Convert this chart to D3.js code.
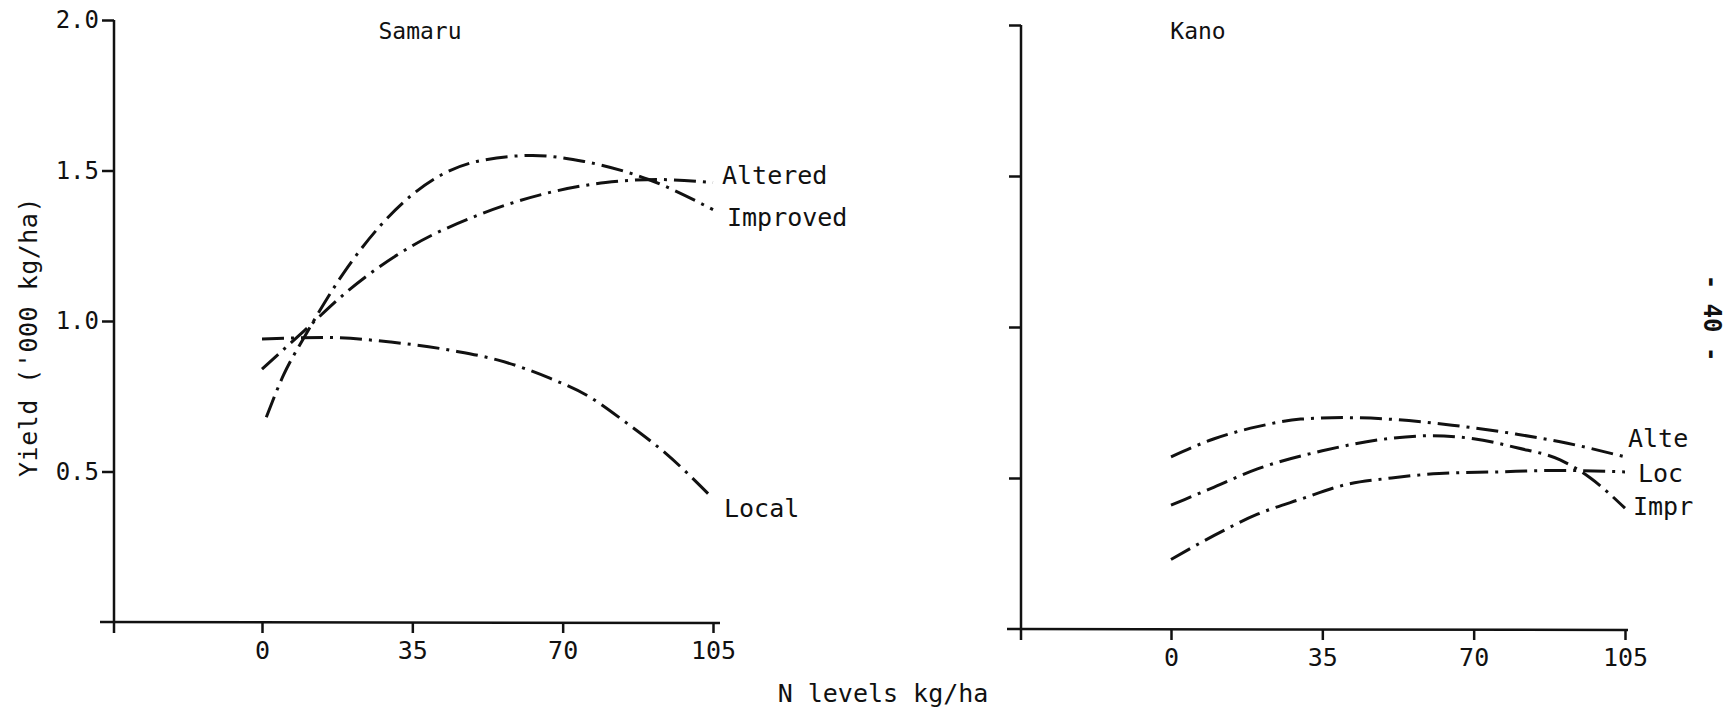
<!DOCTYPE html>
<html>
<head>
<meta charset="utf-8">
<script src="https://cdn.jsdelivr.net/npm/d3@7"></script>
<style>
  body { margin: 0; background: #fff; }
  text { font-family: "DejaVu Sans Mono", monospace; fill: #111; }
</style>
</head>
<body>
<script>
// N levels (kg/ha) and yield ('000 kg/ha)
var xTicks = [0, 35, 70, 105];
var yTicks = [0.5, 1.0, 1.5, 2.0];

var samaruAltered  = [[0,0.84],[10,0.97],[20,1.10],[35,1.25],[50,1.35],[65,1.42],[80,1.46],[92,1.47],[105,1.46]];
var samaruImproved = [[1,0.68],[5,0.82],[10,0.95],[20,1.18],[35,1.42],[50,1.53],[63,1.55],[75,1.53],[90,1.47],[105,1.37]];
var samaruLocal    = [[0,0.94],[15,0.945],[30,0.93],[45,0.90],[55,0.87],[67,0.81],[76,0.75],[85,0.66],[94,0.56],[105,0.41]];

var kanoAltered  = [[0,0.57],[10,0.63],[20,0.67],[30,0.695],[40,0.70],[55,0.69],[65,0.675],[80,0.645],[90,0.62],[105,0.57]];
var kanoImproved = [[0,0.41],[10,0.47],[20,0.53],[35,0.59],[50,0.63],[60,0.64],[70,0.63],[80,0.60],[90,0.56],[97,0.50],[105,0.40]];
var kanoLocal    = [[0,0.23],[10,0.31],[20,0.38],[30,0.43],[41,0.48],[51,0.50],[62,0.515],[75,0.52],[90,0.525],[105,0.52]];

var w = 1725, h = 707;
var svg = d3.select("body").append("svg")
  .attr("width", w)
  .attr("height", h);

// the Kano labels are cut by the edge of the scanned page
var panels = [
  { title: "Samaru", tx: 420, x0: 262, x1: 713, yBase: 622, yTop: 20, axisX: 114,
    xFrom: 100, xTo: 720, labels: true,
    series: [
      { name: "Altered",  shown: "Altered",  data: samaruAltered,  lx: 722, ly: 175 },
      { name: "Improved", shown: "Improved", data: samaruImproved, lx: 727, ly: 217 },
      { name: "Local",    shown: "Local",    data: samaruLocal,    lx: 724, ly: 508 }
    ] },
  { title: "Kano", tx: 1198, x0: 1171, x1: 1625, yBase: 629, yTop: 25, axisX: 1021,
    xFrom: 1007, xTo: 1628, labels: false,
    series: [
      { name: "Altered",  shown: "Alte", data: kanoAltered,  lx: 1628, ly: 438 },
      { name: "Local",    shown: "Loc",  data: kanoLocal,    lx: 1638, ly: 473 },
      { name: "Improved", shown: "Impr", data: kanoImproved, lx: 1633, ly: 506 }
    ] }
];

panels.forEach(function(p) {
  var x = d3.scaleLinear().domain([0, 105]).range([p.x0, p.x1]);
  var y = d3.scaleLinear().domain([0, 2]).range([p.yBase, p.yTop]);

  // x axis
  var gx = svg.append("g")
    .attr("transform", "translate(0," + p.yBase + ")")
    .call(d3.axisBottom(x).tickValues(xTicks).tickSize(11).tickPadding(8).tickSizeOuter(0));
  gx.select(".domain").remove();
  gx.selectAll("line").attr("stroke", "#111").attr("stroke-width", 2.5);
  gx.selectAll("text").attr("font-size", "25px").attr("fill", "#111");
  svg.append("line")
    .attr("x1", p.xFrom).attr("x2", p.xTo)
    .attr("y1", p.yBase).attr("y2", p.yBase + 1)
    .attr("stroke", "#111").attr("stroke-width", 2.5);

  // y axis
  var gy = svg.append("g")
    .attr("transform", "translate(" + p.axisX + ",0)")
    .call(d3.axisLeft(y).tickValues(yTicks).tickSize(12).tickPadding(3)
      .tickFormat(p.labels ? d3.format(".1f") : ""));
  gy.select(".domain").remove();
  gy.selectAll("line").attr("stroke", "#111").attr("stroke-width", 2.5);
  gy.selectAll("text").attr("font-size", "24px").attr("fill", "#111");
  svg.append("line")
    .attr("x1", p.axisX).attr("x2", p.axisX)
    .attr("y1", p.yTop).attr("y2", p.yBase + 11)
    .attr("stroke", "#111").attr("stroke-width", 2.5);

  // title
  svg.append("text")
    .attr("x", p.tx).attr("y", 39)
    .attr("text-anchor", "middle")
    .attr("font-size", "23px")
    .text(p.title);

  var line = d3.line()
    .x(function(d) { return x(d[0]); })
    .y(function(d) { return y(d[1]); })
    .curve(d3.curveMonotoneX);

  svg.selectAll("path.curve-" + p.title)
    .data(p.series)
    .enter()
    .append("path")
    .attr("class", "curve-" + p.title)
    .attr("d", function(d) { return line(d.data); })
    .attr("fill", "none")
    .attr("stroke", "#111")
    .attr("stroke-width", 3)
    .attr("stroke-dasharray", "22,7,3,7");

  svg.selectAll("text.lab-" + p.title)
    .data(p.series)
    .enter()
    .append("text")
    .attr("class", "lab-" + p.title)
    .attr("x", function(d) { return d.lx; })
    .attr("y", function(d) { return d.ly; })
    .attr("dy", "0.36em")
    .attr("font-size", "25px")
    .text(function(d) { return d.shown; });
});

// axis titles
svg.append("text")
  .attr("transform", "translate(37,337) rotate(-90)")
  .attr("text-anchor", "middle")
  .attr("font-size", "25px")
  .attr("letter-spacing", "0.5px")
  .text("Yield ('000 kg/ha)");

svg.append("text")
  .attr("x", 883).attr("y", 702)
  .attr("text-anchor", "middle")
  .attr("font-size", "25px")
  .text("N levels kg/ha");

// page number along the right edge
svg.append("text")
  .attr("transform", "translate(1704,318) rotate(90)")
  .attr("text-anchor", "middle")
  .attr("font-size", "24px")
  .attr("font-weight", "bold")
  .text("- 40 -");
</script>
</body>
</html>
